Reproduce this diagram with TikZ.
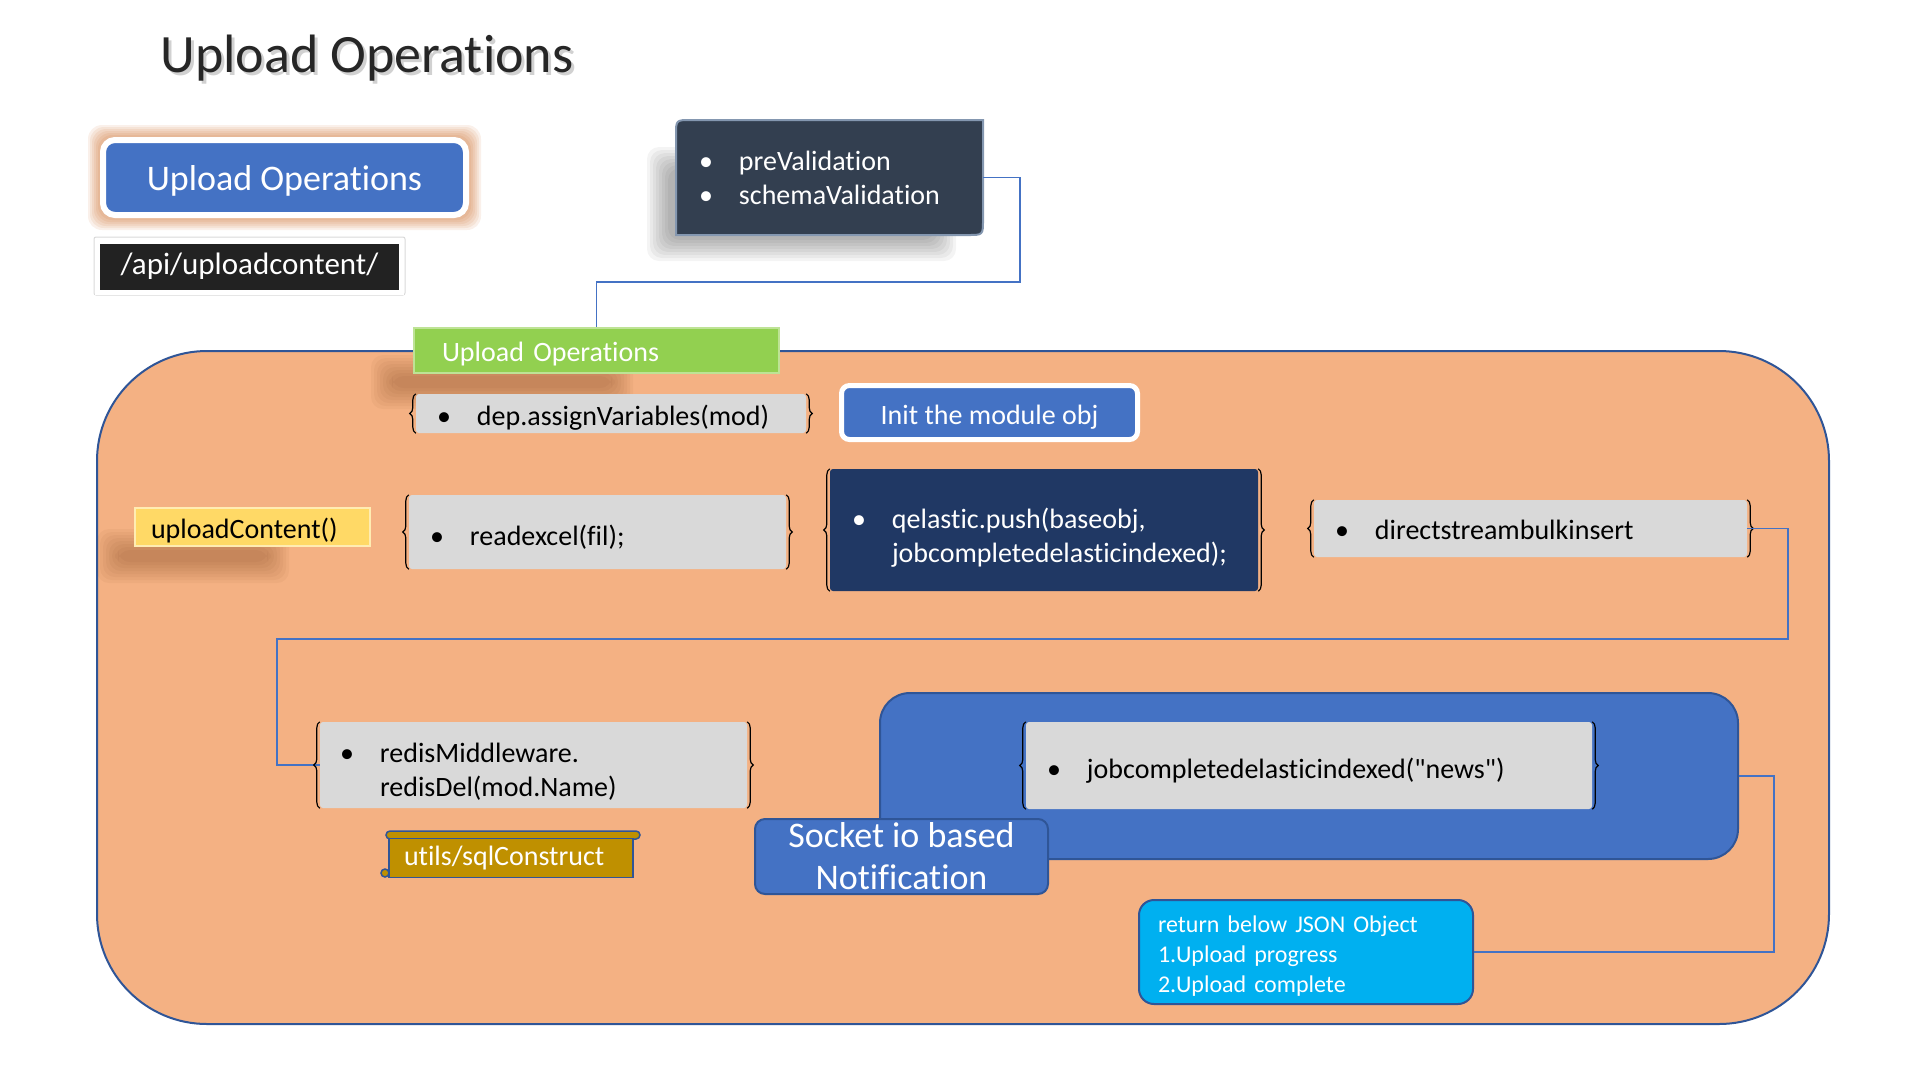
\documentclass[tikz,border=0pt]{standalone}
\usepackage{fontspec}
\setmainfont{Carlito}[Ligatures=CommonOff]
\usetikzlibrary{positioning,decorations.pathreplacing}

\definecolor{bgorange}{HTML}{F4B183}
\definecolor{rimblue}{HTML}{2F5597}
\definecolor{linkblue}{HTML}{4472C4}
\definecolor{boxgrey}{HTML}{D9D9D9}
\definecolor{navy}{HTML}{203864}
\definecolor{slate}{HTML}{333F50}
\definecolor{slaterim}{HTML}{8497B0}
\definecolor{midblue}{HTML}{4472C4}
\definecolor{leaf}{HTML}{92D050}
\definecolor{butter}{HTML}{FFD966}
\definecolor{gold}{HTML}{BF9000}
\definecolor{sky}{HTML}{00B0F0}
\definecolor{ink}{HTML}{222222}
\definecolor{rust}{HTML}{C55A11}
\definecolor{titleink}{HTML}{262626}

\newcommand{\itm}[1]{\makebox[40pt][l]{\textbullet}#1}
\newcommand{\dropby}[1]{\rule{0pt}{#1}}
\newcommand{\bracesides}[1]{%
  \draw[sidebrace] (#1.south west) -- (#1.north west);
  \draw[sidebrace] (#1.north east) -- (#1.south east);}
\newcommand{\blurbox}[5]{%
  \foreach \g in {0,3,...,21}
    \fill[#5,opacity=0.045,rounded corners=12pt] (#1-\g,#2-\g) rectangle (#3+\g,#4+\g);}

\begin{document}
\begin{tikzpicture}[x=1pt,y=-1pt,node distance=89pt,
  link/.style={draw=linkblue,line width=1.5pt},
  sidebrace/.style={draw=black,line width=1.2pt,decorate,decoration={brace,amplitude=6pt}},
  codebox/.style={fill=boxgrey,rounded corners=3pt,align=left,inner xsep=21pt,inner ysep=0pt,
    font=\fontsize{28}{34}\selectfont},
  framedbtn/.style={draw=white,line width=5pt,fill=midblue,text=white,rounded corners=8pt},
  tagbox/.style={align=left,inner ysep=0pt,font=\fontsize{28}{34}\selectfont},
  roundpanel/.style={draw=rimblue,line width=2pt,fill=midblue,text=white}]
\useasboundingbox (0,0) rectangle (1920,1080);

\node[text=gray!60,opacity=0.6,font=\fontsize{54}{60}\selectfont] (titleshade) at (370,61) {Upload Operations};
\node[text=titleink,font=\fontsize{54}{60}\selectfont] (title) at (367,58) {Upload Operations};

\foreach \g in {2,4,...,12}
  \fill[rust,opacity=0.09,rounded corners=14pt] (100-\g,137-\g) rectangle (469+\g,218+\g);
\node[framedbtn,line width=6pt,rounded corners=12pt,minimum width=363pt,minimum height=75pt,
  font=\fontsize{36}{40}\selectfont] (opsbtn) at (284.5,177.5) {\dropby{32pt}Upload Operations};
\draw[gray!30,line width=1pt,rounded corners=2pt] (94,237) rectangle (405,295);
\node[draw=white,line width=5pt,fill=ink,text=white,minimum width=304pt,minimum height=51pt,
  font=\fontsize{31}{36}\selectfont,below of=opsbtn,xshift=-35pt] (apibox) {/api/uploadcontent/};

\blurbox{668}{168}{935}{240}{black}
\filldraw[fill=slate,draw=slaterim,line width=2pt] (676,235) -- (676,135) .. controls (676,120) .. (691,120)
  -- (983,120) -- (983,220) .. controls (983,235) .. (968,235) -- cycle;
\node[tagbox,text=white,text width=261pt,inner xsep=23pt,minimum height=115pt] (prevalid) at (829.5,177.5)
  {\itm{preValidation}\\\itm{schemaValidation}};

\draw[draw=rimblue,line width=2pt,fill=bgorange,rounded corners=110pt] (97,351) rectangle (1829,1024);

\draw[link] (prevalid.east) -| (1020,282) -| (596.5,328);

\blurbox{392}{376}{612}{388}{rust!50!black}
\node[tagbox,fill=leaf,draw=leaf!60!white,line width=1.5pt,text=white,text width=309pt,inner xsep=28pt,
  minimum height=45pt] (greenbox) at (596.5,350.5) {\dropby{26pt}Upload Operations};

\node[codebox,text width=348pt,minimum height=39pt] (depbox) at (611,413.5)
  {\dropby{29pt}\itm{dep.assignVariables(mod)}};
\bracesides{depbox}
\node[framedbtn,minimum width=296pt,minimum height=54pt,font=\fontsize{28}{34}\selectfont] (initbox)
  at (989.5,412.5) {\dropby{28pt}Init the module obj};

\blurbox{118}{550}{268}{562}{rust!50!black}
\node[tagbox,fill=butter,draw=butter!50!white,line width=1.5pt,text width=203pt,inner xsep=16pt,
  minimum height=38pt] (uploadbox) at (252.5,527) {\dropby{28pt}uploadContent()};

\node[codebox,text width=335pt,minimum height=74pt] (readbox) at (597.5,532) {\dropby{31pt}\itm{readexcel(fil);}};
\bracesides{readbox}
\node[codebox,fill=navy,text=white,inner xsep=22pt,text width=384pt,minimum height=122pt] (qelbox)
  at (1044,530) {\dropby{35pt}\itm{qelastic.push(baseobj,}\\\hspace*{40pt}jobcompletedelasticindexed);};
\bracesides{qelbox}
\node[codebox,text width=391pt,minimum height=57pt] (dsbox) at (1530.5,528.5)
  {\dropby{23pt}\itm{directstreambulkinsert}};
\bracesides{dsbox}

\node[codebox,inner xsep=20pt,text width=387pt,minimum height=86pt] (redisbox) at (533.5,765)
  {\dropby{33pt}\itm{redisMiddleware.}\\\hspace*{40pt}redisDel(mod.Name)};
\draw[link] (dsbox.east) -- ++(41,0) |- (277,639) |- (redisbox.west);
\bracesides{redisbox}

\filldraw[fill=gold,draw=rimblue,line width=1.5pt,rounded corners=4pt] (386,831) rectangle (640,839);
\node[tagbox,fill=gold,draw=rimblue,line width=1.5pt,text=white,text width=214pt,inner xsep=15pt,
  minimum height=39pt] (sqlscroll) at (511,858) {utils/sqlConstruct};
\filldraw[fill=gold,draw=rimblue,line width=1.5pt] (385,873) circle (4pt);

\node[roundpanel,rounded corners=30pt,minimum width=858pt,minimum height=166pt] (notifpanel) at (1309,776) {};
\node[codebox,text width=524pt,minimum height=87pt] (jobbox) at (1309,765.5)
  {\dropby{31pt}\itm{jobcompletedelasticindexed(\textquotedbl news\textquotedbl)}};
\bracesides{jobbox}
\node[roundpanel,rounded corners=10pt,minimum width=293pt,minimum height=75pt,align=center,
  font=\fontsize{36}{42}\selectfont] (socketbox) at (901.5,856.5) {Socket io based\\Notification};

\node[roundpanel,fill=sky,rounded corners=15pt,align=left,text width=296pt,inner xsep=19pt,inner ysep=0pt,
  minimum height=104pt,font=\fontsize{24}{30}\selectfont] (jsonbox)
  at (1306,952) {\dropby{24pt}return below JSON Object\\1.Upload progress\\2.Upload complete};

\draw[link] (notifpanel.east) -- ++(35,0) |- (jsonbox.east);
\end{tikzpicture}
\end{document}
